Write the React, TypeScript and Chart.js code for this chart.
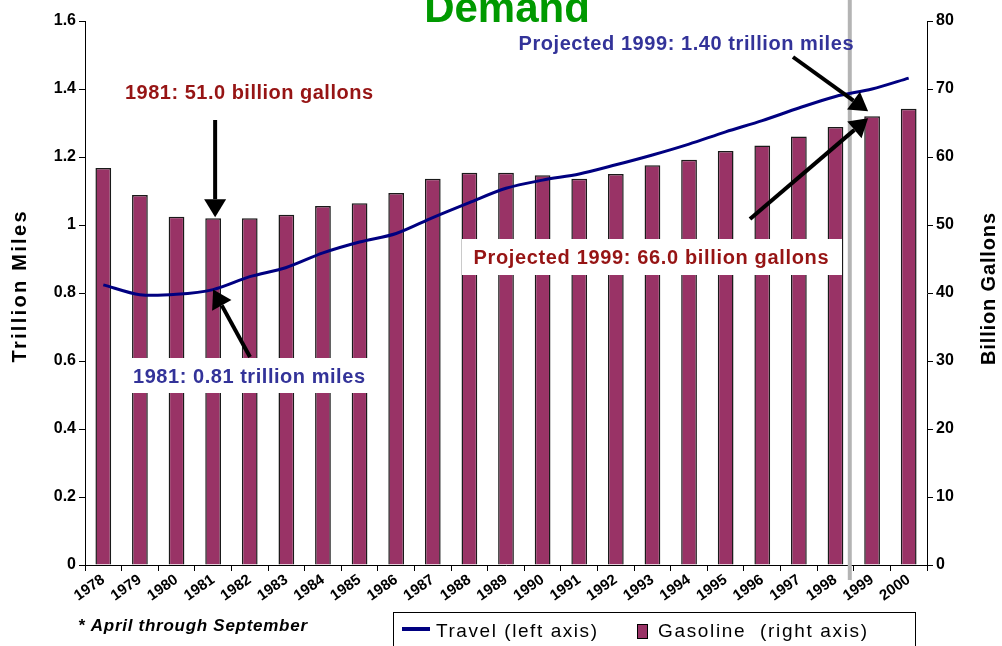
import React, { useEffect, useRef } from 'react';
import { Chart, registerables } from 'chart.js';

Chart.register(...registerables);

const years = ['1978', '1979', '1980', '1981', '1982', '1983', '1984', '1985', '1986', '1987', '1988', '1989', '1990', '1991', '1992', '1993', '1994', '1995', '1996', '1997', '1998', '1999', '2000'];
const travelTrillionMiles = [0.824, 0.795, 0.796, 0.81, 0.848, 0.875, 0.918, 0.95, 0.975, 1.022, 1.066, 1.108, 1.132, 1.15, 1.177, 1.206, 1.238, 1.274, 1.307, 1.344, 1.378, 1.40, 1.432];
const gasolineBillionGallons = [58.4, 54.4, 51.2, 51.0, 51.0, 51.5, 52.8, 53.2, 54.7, 56.8, 57.7, 57.7, 57.3, 56.8, 57.5, 58.8, 59.6, 60.9, 61.7, 63.0, 64.4, 66.0, 67.1];
const leftAxis = { min: 0, max: 1.6, step: 0.2 };
const rightAxis = { min: 0, max: 80, step: 10 };

const titleText = 'Demand';
const leftTitle = 'Trillion Miles';
const rightTitle = 'Billion Gallons';
const footnote = '* April through September';
const legendLine = 'Travel (left axis)';
const legendBar = 'Gasoline  (right axis)';
const noteGal1981 = '1981: 51.0 billion gallons';
const noteMiles1981 = '1981: 0.81 trillion miles';
const noteMiles1999 = 'Projected 1999: 1.40 trillion miles';
const noteGal1999 = 'Projected 1999: 66.0 billion gallons';

const NAVY = '#000080';
const BAR = '#993366';
const DARKRED = '#961414';
const BLUE = '#333399';

function fitText(ctx: CanvasRenderingContext2D, text: string, x: number, y: number, target: number, align: 'center' | 'left') {
  ctx.save();
  (ctx as any).letterSpacing = '0px';
  const w = ctx.measureText(text).width;
  const sp = Math.max(0, (target - w) / Math.max(1, text.length - 1));
  (ctx as any).letterSpacing = sp + 'px';
  const total = w + sp * text.length;
  ctx.textAlign = 'left';
  const sx = align === 'center' ? x - (total - sp) / 2 : x;
  ctx.fillText(text, sx, y);
  ctx.restore();
}

function arrow(ctx: CanvasRenderingContext2D, x1: number, y1: number, x2: number, y2: number) {
  const ang = Math.atan2(y2 - y1, x2 - x1);
  const hl = 18;
  const hw = 11;
  const bx = x2 - hl * Math.cos(ang);
  const by = y2 - hl * Math.sin(ang);
  ctx.save();
  ctx.strokeStyle = '#000';
  ctx.fillStyle = '#000';
  ctx.lineWidth = 4;
  ctx.beginPath();
  ctx.moveTo(x1, y1);
  ctx.lineTo(bx, by);
  ctx.stroke();
  ctx.beginPath();
  ctx.moveTo(x2, y2);
  ctx.lineTo(bx + hw * Math.sin(ang), by - hw * Math.cos(ang));
  ctx.lineTo(bx - hw * Math.sin(ang), by + hw * Math.cos(ang));
  ctx.closePath();
  ctx.fill();
  ctx.restore();
}

const decor = {
  id: 'decor',
  beforeDatasetsDraw(chart: any) {
    const { ctx, scales, chartArea } = chart;
    const xs = scales.x;
    const xm = (xs.getPixelForValue(20) + xs.getPixelForValue(21)) / 2 - 4;
    ctx.save();
    ctx.strokeStyle = '#b4b4b4';
    ctx.lineWidth = 4;
    ctx.beginPath();
    ctx.moveTo(xm, 0);
    ctx.lineTo(xm, chartArea.bottom + 15);
    ctx.stroke();
    ctx.restore();
  },
  afterDatasetsDraw(chart: any) {
    const { ctx, scales } = chart;
    const xs = scales.x, y = scales.y, y1 = scales.y1;
    ctx.save();
    ctx.fillStyle = '#fff';
    ctx.fillRect(462, 239, 380, 36);
    ctx.fillRect(126, 358, 257, 35);

    ctx.font = 'bold 20px Arial, "Liberation Sans", sans-serif';
    ctx.textBaseline = 'middle';
    ctx.fillStyle = DARKRED;
    fitText(ctx, noteGal1981, 249, 93, 248, 'center');
    fitText(ctx, noteGal1999, 651, 258, 355, 'center');
    ctx.fillStyle = BLUE;
    fitText(ctx, noteMiles1999, 686, 44, 335, 'center');
    fitText(ctx, noteMiles1981, 249, 377, 232, 'center');

    const x81 = xs.getPixelForValue(3);
    const x99 = xs.getPixelForValue(21);
    arrow(ctx, x81 + 2, 120, x81 + 2, y1.getPixelForValue(gasolineBillionGallons[3]) - 1);
    arrow(ctx, 250, 357, x81, y.getPixelForValue(travelTrillionMiles[3]));
    arrow(ctx, 793, 57, x99 - 4, y1.getPixelForValue(gasolineBillionGallons[21]) - 5);
    arrow(ctx, 750, 219, x99 - 4, y1.getPixelForValue(gasolineBillionGallons[21]) + 2);
    ctx.restore();
  },
  afterDraw(chart: any) {
    const { ctx } = chart;
    ctx.save();
    ctx.fillStyle = '#009900';
    ctx.font = 'bold 42px Arial, "Liberation Sans", sans-serif';
    ctx.textAlign = 'center';
    ctx.textBaseline = 'alphabetic';
    ctx.fillText(titleText, 507, 22);

    ctx.fillStyle = '#000';
    ctx.font = 'bold 20px Arial, "Liberation Sans", sans-serif';
    ctx.textBaseline = 'middle';
    ctx.save();
    ctx.translate(20, 287);
    ctx.rotate(-Math.PI / 2);
    fitText(ctx, leftTitle, 0, 0, 151, 'center');
    ctx.restore();
    ctx.save();
    ctx.translate(989, 289);
    ctx.rotate(-Math.PI / 2);
    fitText(ctx, rightTitle, 0, 0, 152, 'center');
    ctx.restore();

    ctx.font = 'italic bold 17px Arial, "Liberation Sans", sans-serif';
    ctx.textBaseline = 'middle';
    fitText(ctx, footnote, 78, 626, 229, 'left');

    ctx.strokeStyle = '#000';
    ctx.lineWidth = 1;
    ctx.strokeRect(393.5, 612.5, 522, 60);
    ctx.strokeStyle = NAVY;
    ctx.lineWidth = 4;
    ctx.beginPath();
    ctx.moveTo(402, 629);
    ctx.lineTo(430, 629);
    ctx.stroke();
    ctx.fillStyle = BAR;
    ctx.fillRect(637, 624, 10, 14);
    ctx.strokeStyle = '#000';
    ctx.lineWidth = 1;
    ctx.strokeRect(637.5, 624.5, 10, 14);
    ctx.fillStyle = '#000';
    ctx.font = '19px Arial, "Liberation Sans", sans-serif';
    fitText(ctx, legendLine, 436, 632, 161, 'left');
    fitText(ctx, legendBar, 658, 632, 209, 'left');
    ctx.restore();
  },
};

export default function App() {
  const ref = useRef<HTMLCanvasElement>(null);
  useEffect(() => {
    if (!ref.current) return;
    const tickFont = { family: 'Arial, "Liberation Sans", sans-serif', size: 16, weight: 'bold' as const };
    const chart = new Chart(ref.current, {
      type: 'bar',
      data: {
        labels: years,
        datasets: [
          {
            type: 'line',
            label: 'Travel (left axis)',
            data: travelTrillionMiles,
            yAxisID: 'y',
            borderColor: NAVY,
            backgroundColor: NAVY,
            borderWidth: 3,
            pointRadius: 0,
            tension: 0.3,
            order: 0,
          } as any,
          {
            type: 'bar',
            label: 'Gasoline  (right axis)',
            data: gasolineBillionGallons,
            yAxisID: 'y1',
            backgroundColor: BAR,
            borderColor: '#1a1a1a',
            borderWidth: 1.5,
            categoryPercentage: 1,
            barPercentage: 0.43,
            order: 1,
          } as any,
        ],
      },
      options: {
        animation: false,
        responsive: true,
        maintainAspectRatio: false,
        layout: { padding: { top: 21, left: 0, right: 0, bottom: 0 } },
        plugins: { legend: { display: false }, tooltip: { enabled: false }, title: { display: false } },
        scales: {
          x: {
            offset: true,
            grid: { display: true, drawOnChartArea: false, tickLength: 6, color: '#000', offset: true },
            border: { color: '#000', width: 1 },
            ticks: { font: { ...tickFont, size: 15 }, color: '#000', minRotation: 35, maxRotation: 35, autoSkip: false, padding: 0 },
            afterFit: (s: any) => { s.height = 81; },
          },
          y: {
            position: 'left',
            min: leftAxis.min,
            max: leftAxis.max,
            ticks: {
              stepSize: leftAxis.step,
              font: tickFont,
              color: '#000',
              padding: 3,
              callback: (v: any) => (Number.isInteger(v) ? String(v) : Number(v).toFixed(1)),
            },
            grid: { display: true, drawOnChartArea: false, tickLength: 6, color: '#000' },
            border: { color: '#000', width: 1 },
            afterFit: (s: any) => { s.width = 85; },
          },
          y1: {
            position: 'right',
            min: rightAxis.min,
            max: rightAxis.max,
            ticks: { stepSize: rightAxis.step, font: tickFont, color: '#000', padding: 3 },
            grid: { display: true, drawOnChartArea: false, tickLength: 6, color: '#000' },
            border: { color: '#000', width: 1 },
            afterFit: (s: any) => { s.width = 75; },
          },
        },
      },
      plugins: [decor],
    });
    return () => chart.destroy();
  }, []);
  return (
    <div style={{ position: 'fixed', left: 0, top: 0, width: 1002, height: 646, background: '#fff' }}>
      <canvas ref={ref} />
    </div>
  );
}
